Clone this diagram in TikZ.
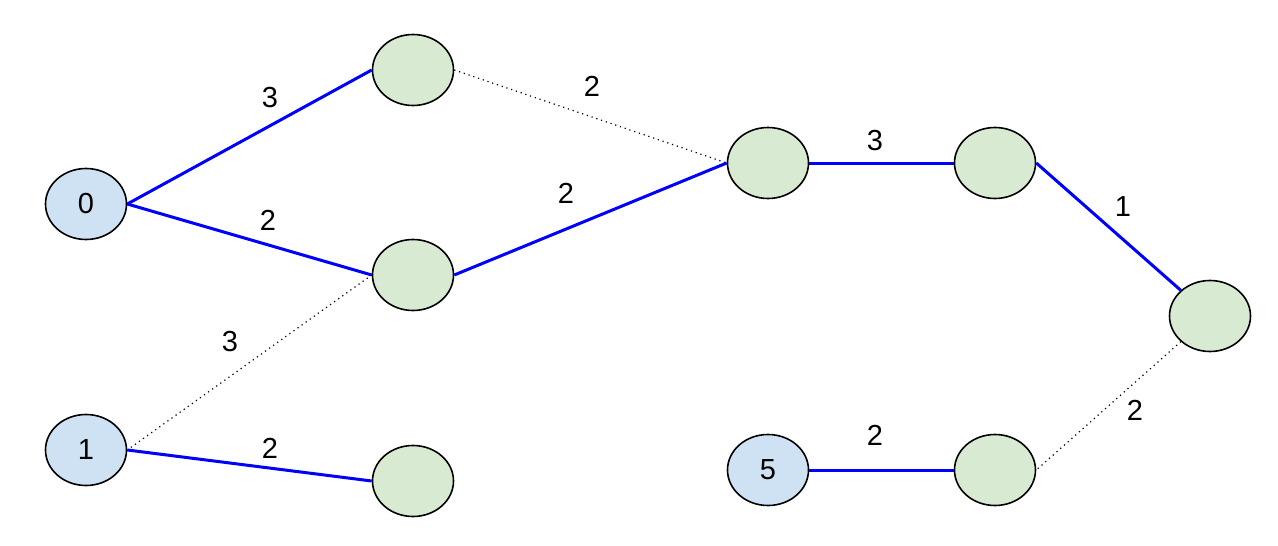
\documentclass[tikz,border=0pt]{standalone}
\usepackage{fontspec}
\setmainfont{Liberation Sans}
\usetikzlibrary{shapes.geometric}
\definecolor{rootfill}{HTML}{CFE2F3}
\definecolor{vtxfill}{HTML}{D9EAD3}

\begin{document}
\begin{tikzpicture}[
  x=1pt,y=-1pt,
  vtx/.style={draw,ellipse,line width=1.6pt,minimum width=81pt,minimum height=71pt,inner sep=0pt,fill=vtxfill,font=\fontsize{29}{34}\selectfont},
  root/.style={vtx,fill=rootfill},
  tree/.style={draw=blue,line width=3pt},
  spare/.style={line width=1.2pt,dash pattern=on 1.2pt off 3.8pt},
  wt/.style={inner sep=0pt,font=\fontsize{29}{34}\selectfont}
]
\useasboundingbox (0,0) rectangle (1278,546);
% vertices
\node[root] (r0) at (86,204) {0};
\node[root] (r1) at (86,450) {1};
\node[root] (r5) at (768,470) {5};
\node[vtx] (a) at (413,70) {};
\node[vtx] (b) at (413,275) {};
\node[vtx] (c) at (413,481) {};
\node[vtx] (d) at (768,163) {};
\node[vtx] (e) at (995,163) {};
\node[vtx] (f) at (1210,316) {};
\node[vtx] (g) at (995,470) {};
% dotted edges first, tree edges on top
\draw[spare] (a.east) -- (d.west);
\draw[spare] (b.west) -- (r1.east);
\draw[spare] (f.south west) -- (g.east);
\draw[tree] (r0.east) -- (a.west);
\draw[tree] (r0.east) -- (b.west);
\draw[tree] (b.east) -- (d.west);
\draw[tree] (r1.east) -- (c.west);
\draw[tree] (d.east) -- (e.west);
\draw[tree] (e.east) -- (f.north west);
\draw[tree] (r5.east) -- (g.west);
% weights
\node[wt] (w0a) at (270,98) {3};
\node[wt] (w0b) at (268,220) {2};
\node[wt] (wad) at (592,86) {2};
\node[wt] (wbd) at (566,193) {2};
\node[wt] (wb1) at (230,342) {3};
\node[wt] (w1c) at (270,448) {2};
\node[wt] (wde) at (875,141) {3};
\node[wt] (wef) at (1123,207) {1};
\node[wt] (wfg) at (1135,410) {2};
\node[wt] (w5g) at (875,435) {2};
\end{tikzpicture}
\end{document}
